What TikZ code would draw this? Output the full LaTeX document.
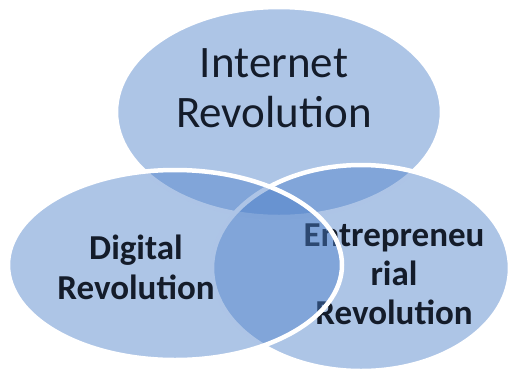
\documentclass[tikz,border=0pt]{standalone}
\usepackage{fontspec}
\setmainfont{Carlito}
\usetikzlibrary{shapes.geometric}
\definecolor{vennblue}{RGB}{74,126,200}
\definecolor{venntext}{RGB}{20,28,42}

\begin{document}
\begin{tikzpicture}[x=1pt, y=-1pt,
    circ/.style={ellipse, draw=white, line width=4.5pt, fill=vennblue, fill opacity=0.45, inner sep=0pt},
    lbl/.style={text=venntext, align=center, inner sep=0pt}]
    \useasboundingbox (0,0) rectangle (512,368);
    % top one first, left one ends on top
    \node[circ, minimum width=326pt, minimum height=210pt] (internet) at (279,112) {};
    \node[lbl, font=\fontsize{45}{50}\selectfont] (internettext) at (274,88) {Internet\\Revolution};
    \node[circ, minimum width=298pt, minimum height=206pt] (entre) at (361,268) {};
    \node[lbl, font=\bfseries\fontsize{35}{39}\selectfont] (entretext) at (394,274) {Entrepreneu\\rial\\Revolution};
    \node[circ, minimum width=334pt, minimum height=190pt] (digital) at (175,265) {};
    \node[lbl, font=\bfseries\fontsize{35}{40}\selectfont] (digitaltext) at (136,267) {Digital\\Revolution};
\end{tikzpicture}
\end{document}
